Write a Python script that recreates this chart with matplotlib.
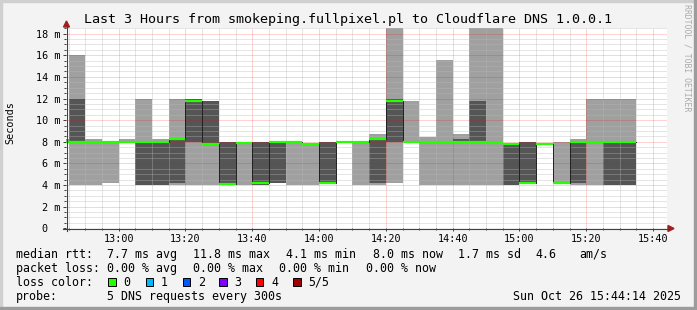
# Smokeping style latency chart (rrdtool look) rendered with matplotlib.
import matplotlib

matplotlib.use("Agg")
import matplotlib.dates as mdates
import matplotlib.pyplot as plt
import numpy as np
import pandas as pd
from matplotlib.lines import Line2D
from matplotlib.patches import Polygon, Rectangle
from matplotlib.ticker import FixedFormatter, FixedLocator, MultipleLocator

W, H = 697, 310

# 5 minute slots, each value covers [start, start + 5 min)
slot_starts = pd.date_range("2025-10-26 12:40", periods=37, freq="5min")
# sorted ping times per slot (ms); ping3 is the median, nan = no data
ping1 = [8.0, 4.0, 4.0, 4.2, 8.0, 4.0, 4.0, 4.0, 4.0, 4.0, 4.1, 4.0, 4.0,
         4.2, 4.0, 4.0, 4.2, 8.0, 4.0, 4.0, 4.2, 8.0, 4.0, 4.0, 4.0, 4.0,
         4.0, 4.0, 4.2, 7.8, 4.2, 4.0, 4.0, 4.0, 4.0, np.nan, np.nan]
ping2 = [8.0, 8.0, 8.0, 8.0, 8.0, 4.0, 4.0, 4.2, 8.0, 7.8, 4.1, 7.9, 4.0,
         4.2, 8.0, 7.8, 4.2, 8.0, 8.0, 4.2, 8.0, 8.0, 8.0, 8.0, 8.0, 8.0,
         7.9, 4.0, 4.2, 7.8, 4.2, 4.2, 8.0, 4.0, 4.0, np.nan, np.nan]
ping3 = [8.0, 8.0, 8.0, 8.0, 8.0, 8.0, 8.0, 8.3, 11.8, 7.8, 4.1, 7.9, 4.2,
         8.0, 8.0, 7.8, 4.2, 8.0, 8.0, 8.3, 11.8, 8.0, 8.0, 8.0, 8.0, 8.0,
         7.9, 7.8, 4.2, 7.8, 4.2, 8.0, 8.0, 8.0, 8.0, np.nan, np.nan]
ping4 = [8.0, 12.0, 8.0, 8.0, 8.0, 8.0, 8.0, 8.3, 12.0, 11.8, 8.0, 7.9, 8.0,
         8.0, 8.0, 7.8, 8.0, 8.0, 8.0, 8.3, 12.0, 8.0, 8.0, 8.0, 8.3, 11.8,
         8.0, 7.8, 8.0, 7.8, 4.2, 8.0, 8.0, 8.0, 8.0, np.nan, np.nan]
ping5 = [8.3, 16.0, 8.25, 8.0, 8.3, 12.0, 8.3, 12.0, 12.0, 11.8, 8.0, 8.0, 8.0,
         8.0, 8.0, 7.8, 8.0, 8.0, 8.0, 8.7, 20.0, 11.8, 8.45, 15.6, 8.7, 20.0,
         20.0, 7.9, 8.0, 7.8, 8.0, 8.3, 12.0, 12.0, 12.0, np.nan, np.nan]

y_ticks = [0, 2, 4, 6, 8, 10, 12, 14, 16, 18]
y_tick_labels = ["0  ", "2 m", "4 m", "6 m", "8 m", "10 m", "12 m", "14 m", "16 m", "18 m"]

loss_labels = ["0", "1", "2", "3", "4", "5/5"]
loss_colors = ["#26ff00", "#00b8ff", "#0059ff", "#7e00ff", "#ff0000", "#a00000"]

LIGHT = "#a0a0a0"
DARK = "#555555"
AXIS = "#404040"
MONO = "DejaVu Sans Mono"


def px(x, y):
    # pixel position (from top-left) to figure fraction
    return x / W, 1 - y / H


fig = plt.figure(figsize=(W / 100, H / 100), dpi=100, facecolor="#f3f3f3")
left, top = 66.0, 27.7
right, bottom = 667.2, 228.3
ax = fig.add_axes([left / W, 1 - bottom / H, (right - left) / W, (bottom - top) / H])
ax.set_facecolor("white")

x = mdates.date2num(slot_starts.to_pydatetime())
width = 5 / (24 * 60)
p1, p2, p3, p4, p5 = (np.array(p, dtype=float) for p in (ping1, ping2, ping3, ping4, ping5))
ok = ~np.isnan(p3)

ax.bar(x[ok], (p5 - p1)[ok], width, bottom=p1[ok], align="edge",
       color=LIGHT, linewidth=0, zorder=1)
ax.bar(x[ok], (p4 - p2)[ok], width, bottom=p2[ok], align="edge",
       color=DARK, linewidth=0, zorder=1.1)

# dark step line under the coloured median segments
xs = np.append(x[ok], x[ok][-1] + width)
ax.step(xs, np.append(p3[ok], p3[ok][-1]), where="post",
        color="#202020", linewidth=0.7, zorder=3)
ax.hlines(p3[ok], x[ok], x[ok] + width, colors=loss_colors[0], linewidth=1.6, zorder=4)

t0 = pd.Timestamp("2025-10-26 12:44:14").to_pydatetime()
t1 = pd.Timestamp("2025-10-26 15:44:14").to_pydatetime()
ax.set_xlim(t0, t1)
ax.set_ylim(0, 18.55)

ax.xaxis.set_major_locator(mdates.MinuteLocator(byminute=[0, 20, 40]))
ax.xaxis.set_minor_locator(mdates.MinuteLocator(byminute=range(0, 60, 5)))
ax.xaxis.set_major_formatter(mdates.DateFormatter("%H:%M"))
ax.yaxis.set_major_locator(FixedLocator(y_ticks))
ax.yaxis.set_major_formatter(FixedFormatter(y_tick_labels))
ax.yaxis.set_minor_locator(MultipleLocator(0.5))

ax.set_axisbelow(False)
ax.grid(which="minor", color="#b8b8b8", alpha=0.7, linewidth=0.72, dashes=(1, 1))
ax.grid(which="major", color="#ff0000", alpha=0.35, linewidth=0.72, dashes=(1, 1))

for s in ax.spines.values():
    s.set_visible(False)
ax.tick_params(axis="both", which="both", direction="out", color=AXIS, width=0.72)
ax.tick_params(axis="y", which="major", length=2.2, pad=2.0, labelsize=7.3)
ax.tick_params(axis="y", which="minor", length=1.4)
ax.tick_params(axis="x", which="major", length=2.2, pad=1.6, labelsize=7.3)
ax.tick_params(axis="x", which="minor", length=1.4)
for lab in ax.get_xticklabels() + ax.get_yticklabels():
    lab.set_fontfamily(MONO)

# axis lines with rrdtool arrow heads
fig.add_artist(Line2D(*zip(px(66.5, 231), px(66.5, 26)), color=AXIS, linewidth=0.8,
                      transform=fig.transFigure))
fig.add_artist(Line2D(*zip(px(63, 228.5), px(670, 228.5)), color=AXIS, linewidth=0.8,
                      transform=fig.transFigure))
fig.add_artist(Polygon([px(63.5, 27), px(69.5, 27), px(66.5, 21)], closed=True,
                       color="#a02020", transform=fig.transFigure))
fig.add_artist(Polygon([px(668, 225.5), px(668, 231.5), px(674, 228.5)], closed=True,
                       color="#a02020", transform=fig.transFigure))

# frame
fig.add_artist(Rectangle(px(0, H), 2 / W, 1, color="#d0d0d0", transform=fig.transFigure))
fig.add_artist(Rectangle(px(0, 2), 1, 2 / H, color="#d0d0d0", transform=fig.transFigure))
fig.add_artist(Rectangle(px(W - 3, H), 3 / W, 1, color="#9c9c9c", transform=fig.transFigure))
fig.add_artist(Rectangle(px(0, H), 1, 3 / H, color="#9c9c9c", transform=fig.transFigure))

fig.text(*px(348.5, 19), "Last 3 Hours from smokeping.fullpixel.pl to Cloudflare DNS 1.0.0.1",
         ha="center", va="center", fontsize=9.6, family=MONO)
fig.text(*px(10.5, 122.5), "Seconds", rotation=90, ha="center", va="center",
         fontsize=7.3, family=MONO)
fig.text(*px(687, 4), "RRDTOOL / TOBI OETIKER", rotation=270, ha="center", va="top",
         fontsize=5.9, family=MONO, color="#ababab")

LEG = 8.35
rows = [
    (254.3, [(16, "median rtt:"), (107.3, "7.7 ms avg"), (193.3, "11.8 ms max"),
             (286, "4.1 ms min"), (372.7, "8.0 ms now"), (458.3, "1.7 ms sd"),
             (535, "4.6"), (579.3, "am/s")]),
    (268.3, [(16, "packet loss:"), (107.3, "0.00 % avg"), (193.3, "0.00 % max"),
             (279.3, "0.00 % min"), (366, "0.00 % now")]),
    (282.3, [(16, "loss color:")]),
    (296.2, [(16, "probe:"), (107.3, "5 DNS requests every 300s"),
             (512.7, "Sun Oct 26 15:44:14 2025")]),
]
for y, items in rows:
    for xx, txt in items:
        fig.text(*px(xx, y), txt, ha="left", va="center", fontsize=LEG, family=MONO)

box_x = [108.3, 145.7, 182.7, 219.3, 256, 293.3]
for bx, lab, col in zip(box_x, loss_labels, loss_colors):
    fig.add_artist(Rectangle(px(bx, 285.7), 7.4 / W, 7.4 / H, facecolor=col,
                             edgecolor="black", linewidth=0.7, transform=fig.transFigure))
    fig.text(*px(bx + 15, 282.3), lab, ha="left", va="center", fontsize=LEG, family=MONO)

fig.savefig("out.png", dpi=100, facecolor=fig.get_facecolor())
plt.close(fig)
